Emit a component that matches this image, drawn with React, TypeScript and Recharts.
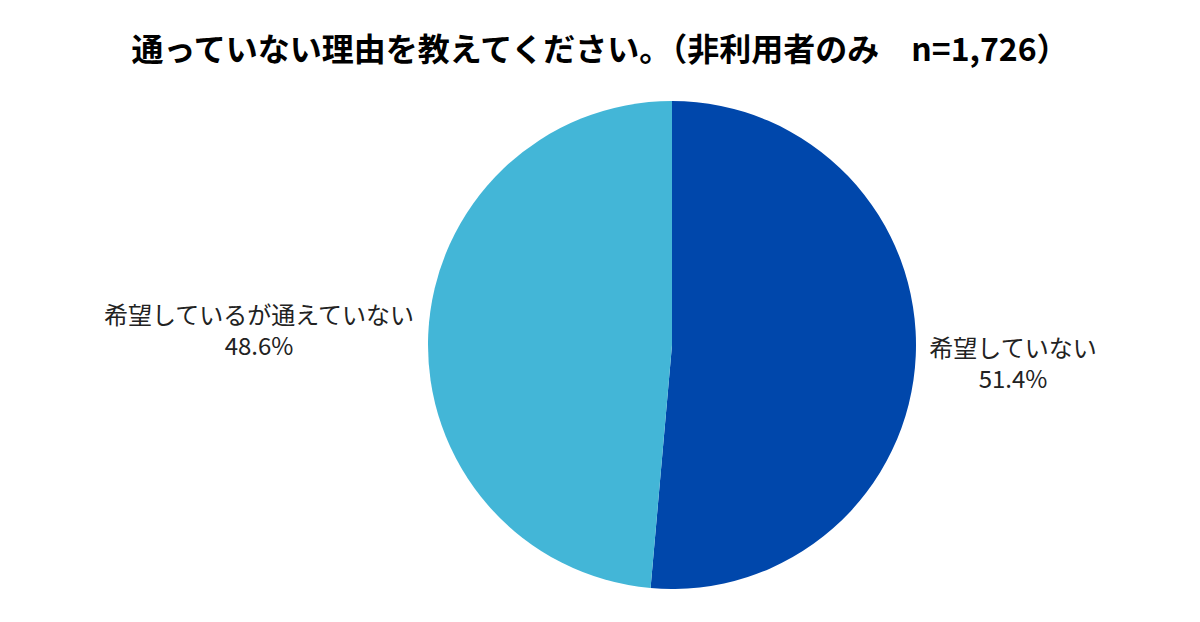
import React from "react";
import { PieChart, Pie, Cell } from "recharts";

const categories = ["希望していない", "希望しているが通えていない"];
const values = [51.4, 48.6];
const valueLabels = ["51.4%", "48.6%"];
const colors = ["#0047AB", "#43B6D7"];
const titleText = "通っていない理由を教えてください。（非利用者のみ　n=1,726）";

const data = categories.map((name, i) => ({ name, value: values[i], label: valueLabels[i] }));

const RADIAN = Math.PI / 180;
const FONT = "'Noto Sans CJK JP', 'Noto Sans', sans-serif";

const renderLabel = (props: any) => {
  const { cx, cy, midAngle, outerRadius, index } = props;
  const cos = Math.cos(-midAngle * RADIAN);
  const sin = Math.sin(-midAngle * RADIAN);
  const name = categories[index];
  const w = name.length * 24;
  const right = cos >= 0;
  const x = right ? cx + outerRadius + 13 + w / 2 : cx - outerRadius - 13 - w / 2;
  const yc = cy + outerRadius * 1.5 * sin;
  return (
    <g>
      <text x={x} y={yc - 15} textAnchor="middle" dominantBaseline="central" fontSize={24} fill="#222" fontFamily={FONT}>
        {name}
      </text>
      <text x={x} y={yc + 16} textAnchor="middle" dominantBaseline="central" fontSize={24} fill="#222" fontFamily={FONT}>
        {valueLabels[index]}
      </text>
    </g>
  );
};

export default function App() {
  return (
    <div style={{ position: "absolute", left: 0, top: 0, width: 1200, height: 622, background: "#fff" }}>
      <div
        style={{
          position: "absolute",
          left: 0,
          width: 1200,
          top: 24,
          textAlign: "center",
          fontFamily: FONT,
          fontWeight: 700,
          fontSize: 32,
          lineHeight: "46px",
          color: "#000",
          whiteSpace: "nowrap",
        }}
      >
        {titleText}
      </div>
      <PieChart width={1200} height={622}>
        <Pie
          data={data}
          dataKey="value"
          nameKey="name"
          cx={667}
          cy={340}
          outerRadius={244}
          startAngle={90}
          endAngle={-270}
          stroke="none"
          label={renderLabel}
          labelLine={false}
          isAnimationActive={false}
        >
          {data.map((d, i) => (
            <Cell key={d.name} fill={colors[i]} />
          ))}
        </Pie>
      </PieChart>
    </div>
  );
}
